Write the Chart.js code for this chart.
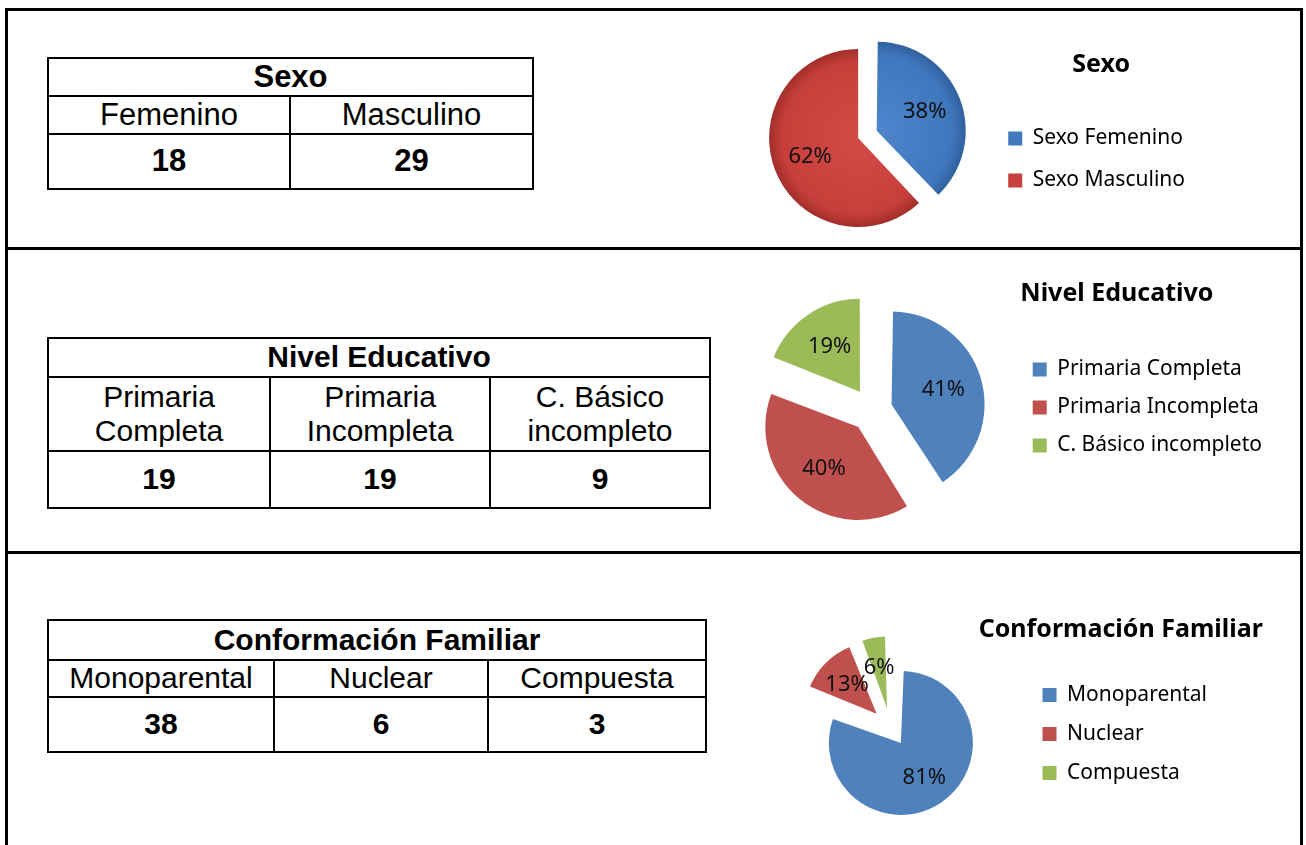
<!DOCTYPE html>
<html lang="es">
<head>
<meta charset="utf-8">
<title>Sexo, Nivel Educativo y Conformación Familiar</title>
<script src="https://cdn.jsdelivr.net/npm/chart.js@4.4.1/dist/chart.umd.min.js"></script>
<style>
    html, body { margin: 0; padding: 0; background: #fff; overflow: hidden; }
    body { width: 1306px; height: 845px; position: relative; font-family: "Liberation Sans", Arial, sans-serif; }
    .frame { position: absolute; left: 5px; top: 8px; width: 1298px; height: 900px; border: 3px solid #000; box-sizing: border-box; }
    .divider { position: absolute; left: 5px; width: 1298px; height: 3px; background: #000; }
    table.datos { position: absolute; border-collapse: collapse; table-layout: fixed; color: #000; }
    table.datos td { border: 2px solid #000; text-align: center; vertical-align: middle; padding: 0; line-height: 1.15; }
    table.datos tr.head td, table.datos tr.num td { font-weight: bold; }
    .chart-box { position: absolute; }
</style>
</head>
<body>
<div class="frame"></div>
<div class="divider" style="top:247px"></div>
<div class="divider" style="top:551px"></div>

<table class="datos" id="tablaSexo" style="left:47px; top:57px; width:485px; font-size:31px"></table>
<table class="datos" id="tablaNivel" style="left:47px; top:337px; width:662px; font-size:30px"></table>
<table class="datos" id="tablaFamilia" style="left:47px; top:619px; width:658px; font-size:30px"></table>

<div class="chart-box" style="left:729px; top:30px; width:476px; height:216px"><canvas id="pieSexo"></canvas></div>
<div class="chart-box" style="left:729px; top:265px; width:553px; height:290px"><canvas id="pieNivel"></canvas></div>
<div class="chart-box" style="left:757px; top:602px; width:530px; height:242px"><canvas id="pieFamilia"></canvas></div>

<script>
"use strict";

// datos
const sexoCategorias = ['Femenino', 'Masculino'];
const sexoConteo = [18, 29];
const sexoLeyenda = ['Sexo Femenino', 'Sexo Masculino'];
const sexoPorcentaje = [38, 62];

const nivelCategorias = ['Primaria Completa', 'Primaria Incompleta', 'C. Básico incompleto'];
const nivelConteo = [19, 19, 9];
const nivelPorcentaje = [41, 40, 19];

const familiaCategorias = ['Monoparental', 'Nuclear', 'Compuesta'];
const familiaConteo = [38, 6, 3];
const familiaPorcentaje = [81, 13, 6];

const AZUL = '#4F81BD';
const ROJO = '#C0504D';
const VERDE = '#9BBB59';
const FUENTE = '"Noto Sans", "Open Sans", sans-serif';

function buildTable(id, title, cats, counts, colWidths, rowHeights) {
    const t = document.getElementById(id);
    const cg = document.createElement('colgroup');
    colWidths.forEach(function (w) {
        const c = document.createElement('col');
        c.style.width = w + 'px';
        cg.appendChild(c);
    });
    t.appendChild(cg);

    const head = t.insertRow();
    head.className = 'head';
    head.style.height = rowHeights[0] + 'px';
    const hc = head.insertCell();
    hc.colSpan = cats.length;
    hc.textContent = title;

    const r2 = t.insertRow();
    r2.style.height = rowHeights[1] + 'px';
    cats.forEach(function (c) { r2.insertCell().textContent = c; });

    const r3 = t.insertRow();
    r3.className = 'num';
    r3.style.height = rowHeights[2] + 'px';
    counts.forEach(function (n) { r3.insertCell().textContent = n; });
}

buildTable('tablaSexo', 'Sexo', sexoCategorias, sexoConteo, [242, 243], [38, 37, 55]);
buildTable('tablaNivel', 'Nivel Educativo', nivelCategorias, nivelConteo, [222, 220, 220], [39, 74, 57]);
buildTable('tablaFamilia', 'Conformación Familiar', familiaCategorias, familiaConteo, [226, 214, 218], [40, 37, 55]);

// Chart.js agranda el radio de las porciones desplazadas; se deja igual para todas
const evenRadius = {
    id: 'evenRadius',
    beforeDatasetsDraw: function (chart) {
        const r = chart.data.datasets[0].radius;
        chart.getDatasetMeta(0).data.forEach(function (arc) {
            const circ = arc.endAngle - arc.startAngle;
            const grow = (arc.options.offset || 0) / 4 * (1 - Math.sin(Math.min(Math.PI, circ)));
            arc.outerRadius = r - grow;
        });
    }
};

// etiquetas de porcentaje dentro de cada porción
const percentLabels = {
    id: 'percentLabels',
    afterDatasetsDraw: function (chart) {
        const ctx = chart.ctx;
        const meta = chart.getDatasetMeta(0);
        const values = chart.data.datasets[0].data;
        ctx.save();
        ctx.font = '22px ' + FUENTE;
        ctx.fillStyle = '#111';
        ctx.textAlign = 'center';
        ctx.textBaseline = 'middle';
        meta.data.forEach(function (arc, i) {
            const mid = (arc.startAngle + arc.endAngle) / 2;
            const dist = (arc.options.offset || 0) / 4 + chart.data.datasets[0].radius * 0.58;
            ctx.fillText(values[i] + '%', arc.x + Math.cos(mid) * dist, arc.y + Math.sin(mid) * dist);
        });
        ctx.restore();
    }
};

// el título de la leyenda se recorta al ancho de la caja; se dibuja aquí sin recorte
const legendHeading = {
    id: 'legendHeading',
    afterDraw: function (chart, args, opts) {
        const lg = chart.legend;
        const ctx = chart.ctx;
        ctx.save();
        ctx.font = 'bold 25px ' + FUENTE;
        ctx.fillStyle = '#000';
        ctx.textAlign = 'center';
        ctx.textBaseline = 'middle';
        ctx.fillText(opts.text, lg.left + lg.width / 2 + opts.shift, lg.top + opts.top + 12.5);
        ctx.restore();
    }
};

// relleno con degradado (efecto bisel del gráfico de sexo)
function shaded(bases, lights, darks, radius) {
    return function (c) {
        const area = c.chart.chartArea;
        if (!area || c.dataIndex === undefined) return bases[0];
        const cx = (area.left + area.right) / 2;
        const cy = (area.top + area.bottom) / 2;
        const g = c.chart.ctx.createRadialGradient(cx, cy, 0, cx, cy, radius);
        g.addColorStop(0, lights[c.dataIndex]);
        g.addColorStop(0.82, bases[c.dataIndex]);
        g.addColorStop(1, darks[c.dataIndex]);
        return g;
    };
}

function pieChart(canvasId, cfg) {
    return new Chart(document.getElementById(canvasId), {
        type: 'pie',
        data: {
            labels: cfg.labels,
            datasets: [{
                data: cfg.values,
                backgroundColor: cfg.fill || cfg.colors,
                borderWidth: 0,
                offset: cfg.offsets,
                radius: cfg.radius
            }]
        },
        options: {
            responsive: true,
            maintainAspectRatio: false,
            animation: false,
            layout: { padding: cfg.padding },
            plugins: {
                tooltip: { enabled: false },
                legendHeading: { text: cfg.title, shift: cfg.titleShift, top: cfg.titlePadding.top },
                legend: {
                    position: 'right',
                    align: 'start',
                    title: {
                        display: true,
                        text: cfg.title,
                        color: 'rgba(0,0,0,0)',
                        font: { family: FUENTE, size: 25, weight: 'bold' },
                        padding: cfg.titlePadding
                    },
                    labels: {
                        boxWidth: 14,
                        boxHeight: 14,
                        padding: cfg.itemGap,
                        color: '#000',
                        font: { family: FUENTE, size: 21 },
                        generateLabels: function (chart) {
                            const items = Chart.overrides.pie.plugins.legend.labels.generateLabels(chart);
                            items.forEach(function (it, i) {
                                it.fillStyle = cfg.colors[i];
                                it.strokeStyle = cfg.colors[i];
                                it.lineWidth = 0;
                            });
                            return items;
                        }
                    }
                }
            }
        },
        plugins: [evenRadius, percentLabels, legendHeading]
    });
}

pieChart('pieSexo', {
    title: 'Sexo',
    labels: sexoLeyenda,
    values: sexoPorcentaje,
    colors: ['#4178be', '#c8403c'],
    fill: shaded(['#3f77bd', '#c63f3b'], ['#4f86cb', '#d24b47'], ['#2d5c98', '#9a2a27'], 92),
    offsets: [80, 0],
    radius: 89,
    padding: { left: 0, top: 10, right: 10, bottom: 10 },
    titlePadding: { top: 12, bottom: 25 },
    titleShift: 10,
    itemGap: 21
});

pieChart('pieNivel', {
    title: 'Nivel Educativo',
    labels: nivelCategorias,
    values: nivelPorcentaje,
    colors: [AZUL, ROJO, VERDE],
    offsets: [80, 88, 88],
    radius: 93,
    padding: { left: 0, top: 10, right: 10, bottom: 10 },
    titlePadding: { top: 6, bottom: 31 },
    titleShift: -27,
    itemGap: 17
});

pieChart('pieFamilia', {
    title: 'Conformación Familiar',
    labels: familiaCategorias,
    values: familiaPorcentaje,
    colors: [AZUL, ROJO, VERDE],
    offsets: [72, 80, 80],
    radius: 72,
    padding: { left: 0, top: 10, right: 70, bottom: 0 },
    titlePadding: { top: 5.5, bottom: 19 },
    titleShift: 0,
    itemGap: 18
});
</script>
</body>
</html>
